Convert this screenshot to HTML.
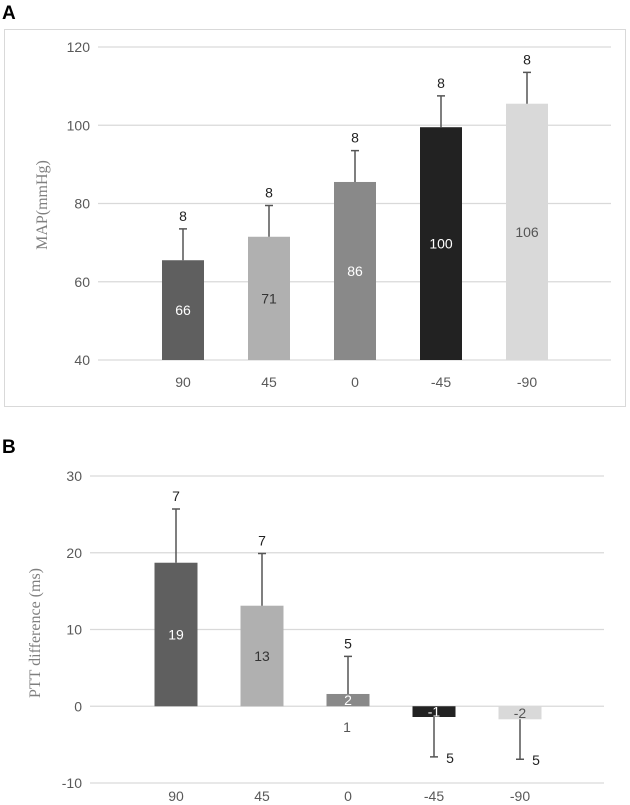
<!DOCTYPE html>
<html><head><meta charset="utf-8"><style>
html,body{margin:0;padding:0;background:#fff;}
svg{display:block;}
</style></head><body>
<svg id="fig" width="630" height="805" xmlns="http://www.w3.org/2000/svg">
<text x="2" y="19" font-family="Liberation Sans, sans-serif" font-weight="bold" font-size="19" fill="#000">A</text>
<rect x="4.5" y="29.5" width="621" height="377" fill="none" stroke="#d9d9d9"/>
<text x="2" y="453" font-family="Liberation Sans, sans-serif" font-weight="bold" font-size="19" fill="#000">B</text>
<g id="chartA"></g>
<g id="chartB"></g>
</svg>
<script>
const categories = ["90","45","0","-45","-90"];
const colors = ["#5f5f5f","#b0b0b0","#898989","#222222","#d9d9d9"];
const mapValues = [65.5,71.5,85.5,99.5,105.5];
const mapLabels = ["66","71","86","100","106"];
const mapErrors = [8,8,8,8,8];
const mapErrLabels = ["8","8","8","8","8"];
const mapTicks = [40,60,80,100,120];
const pttValues = [18.7,13.1,1.6,-1.4,-1.7];
const pttLabels = ["19","13","2","-1","-2"];
const pttErrors = [7,6.8,4.9,5.2,5.2];
const pttErrLabels = ["7","7","5","5","5"];
const pttTicks = [-10,0,10,20,30];
const labelColors = ["#fff","#333","#fff","#fff","#555"];

const NS="http://www.w3.org/2000/svg";
function mk(parent,tag,attrs,text){const e=document.createElementNS(NS,tag);for(const k in attrs)e.setAttribute(k,attrs[k]);if(text!==undefined)e.textContent=text;parent.appendChild(e);return e;}

function draw(g,cfg){
  const {x0,x1,y0,y1,vmin,vmax,ticks,values,labels,errors,errLabels,c0,step,bw,ylab,ylabX}=cfg;
  const y=v=>y1-(v-vmin)/(vmax-vmin)*(y1-y0);
  const xc=i=>c0+i*step;
  ticks.forEach(t=>{
    const l=mk(g,"line",{x1:x0,x2:x1,y1:y(t),y2:y(t),stroke:"#d9d9d9","stroke-width":1.3});
    
    
    const tx=mk(g,"text",{x:x0-8,y:y(t)+5,"text-anchor":"end","font-family":"Liberation Sans, sans-serif","font-size":14,fill:"#595959"},String(t));
    
    
  });
  categories.forEach((c,i)=>{
    const v=values[i], base=vmin>0?vmin:0;
    const top=y(Math.max(v,base)), bot=y(Math.min(v,base));
    const r=mk(g,"rect",{x:xc(i)-bw/2,y:top,width:bw,height:Math.max(bot-top,1),fill:colors[i]});
    
    
    const dir=v>=base?1:-1;
    const ey=y(v+dir*errors[i]);
    const el=mk(g,"path",{d:`M${xc(i)},${y(v)}V${ey}M${xc(i)-4},${ey}H${xc(i)+4}`,stroke:"#555","stroke-width":1.5,fill:"none"});
    
    
    const ex=dir>0?xc(i):xc(i)+16, eyy=dir>0?ey-8:ey+6;
    const et=mk(g,"text",{x:ex,y:eyy,"text-anchor":"middle","font-family":"Liberation Sans, DejaVu Sans, sans-serif","font-size":14,fill:"#222"},errLabels[i]);
    
    
    const mid=(top+bot)/2;
    const vt=mk(g,"text",{x:xc(i),y:mid+5,"text-anchor":"middle","font-family":"Liberation Sans, DejaVu Sans, sans-serif","font-size":14,fill:labelColors[i]},labels[i]);
    
    
    const xt=mk(g,"text",{x:xc(i),y:y1+cfg.xlabOff,"text-anchor":"middle","font-family":"Liberation Sans, sans-serif","font-size":14,fill:"#595959"},c);
    
    
  });
  const yl=mk(g,"text",{x:ylabX,y:cfg.ylabY,"text-anchor":"middle","font-family":"Liberation Serif, serif","font-size":16,fill:"#7f7f7f",transform:`rotate(-90 ${ylabX} ${cfg.ylabY})`},ylab);
  
  
}
draw(document.getElementById("chartA"),{x0:98,x1:611,y0:47,y1:360,vmin:40,vmax:120,ticks:mapTicks,values:mapValues,labels:mapLabels,errors:mapErrors,errLabels:mapErrLabels,c0:183,step:86,bw:42,ylab:"MAP(mmHg)",ylabX:47,ylabY:205,xlabOff:27});
draw(document.getElementById("chartB"),{x0:90,x1:604,y0:476,y1:783,vmin:-10,vmax:30,ticks:pttTicks,values:pttValues,labels:pttLabels,errors:pttErrors,errLabels:pttErrLabels,c0:176,step:86,bw:43,ylab:"PTT difference (ms)",ylabX:40,ylabY:633,xlabOff:18});
const g=document.getElementById("chartB");
const one=mk(g,"text",{x:347,y:732,"text-anchor":"middle","font-family":"Liberation Sans, sans-serif","font-size":14,fill:"#555"},"1");


</script>
</body></html>
